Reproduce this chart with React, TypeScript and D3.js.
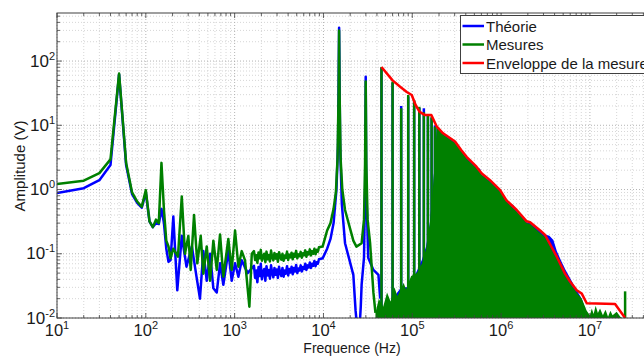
import React from "react";
import * as d3 from "d3";

type P = [number, number];

const W = 644;
const H = 356;
const PLOT = { left: 57, top: 13, bottom: 318, right: 652 };

const X_DOMAIN: [number, number] = [10, 5e7];
const Y_DOMAIN: [number, number] = [0.01, 560];
const X_TICKS = [10, 100, 1e3, 1e4, 1e5, 1e6, 1e7];
const X_TICK_EXP = ["1", "2", "3", "4", "5", "6", "7"];
const Y_TICKS = [0.01, 0.1, 1, 10, 100];
const Y_TICK_EXP = ["-2", "-1", "0", "1", "2"];

const LEGEND_LABELS = ["Théorie", "Mesures", "Enveloppe de la mesure"];
const COLORS = { theory: "#0000ff", measure: "#008000", envelope: "#ff0000" };

// Théorie (blue) – low-frequency part, up to 1.4 kHz
const theoryLowA: P[] = [
  [10, 0.88], [20, 1.05], [30, 1.4], [40, 2.4], [50, 62], [60, 2.4], [70, 0.85], [80, 0.62],
  [90, 0.52], [100, 0.9], [110, 0.32], [120, 0.26], [130, 0.3], [140, 0.29], [150, 0.5],
  [160, 0.3], [170, 0.12], [180, 0.075], [190, 0.08], [204, 0.38], [226, 0.027], [254, 0.19],
  [287, 0.063], [330, 0.13], [372, 0.044], [407, 0.02], [444, 0.11], [485, 0.038], [529, 0.1],
  [576, 0.029], [629, 0.025], [685, 0.071], [746, 0.033], [849, 0.11], [927, 0.038],
  [1011, 0.071], [1102, 0.044], [1202, 0.079], [1400, 0.05],
];

// Mesures (green) – low-frequency part, up to 1.56 kHz
const measureLowA: P[] = [
  [10, 1.22], [20, 1.37], [30, 1.8], [40, 2.95], [50, 64], [60, 2.6], [70, 0.9], [80, 0.65],
  [90, 0.54], [100, 0.98], [110, 0.32], [120, 0.26], [130, 0.34], [140, 0.3], [150, 2.6],
  [160, 0.48], [170, 0.16], [180, 0.13], [190, 0.085], [204, 0.12], [230, 0.09], [254, 0.78],
  [276, 0.1], [301, 0.19], [320, 0.056], [349, 0.4], [380, 0.071], [415, 0.19], [444, 0.049],
  [485, 0.13], [529, 0.038], [576, 0.16], [629, 0.056], [685, 0.2], [746, 0.044], [849, 0.17],
  [927, 0.056], [1011, 0.23], [1102, 0.063], [1202, 0.11], [1309, 0.079], [1465, 0.015],
  [1560, 0.1],
];

// Noisy plateau between 1.65 kHz and 9 kHz
const bandFreqs = [
  1650, 1700, 1751, 1803, 1857, 1913, 1970, 2029, 2090, 2153, 2218, 2284, 2353, 2423, 2496,
  2571, 2648, 2727, 2809, 2893, 2980, 3070, 3162, 3256, 3354, 3455, 3558, 3665, 3775, 3888,
  4005, 4125, 4249, 4376, 4507, 4643, 4782, 4925, 5073, 5225, 5382, 5543, 5710, 5881, 6057,
  6239, 6426, 6619, 6818, 7022, 7233, 7450, 7673, 7904, 8141, 8385, 8637, 8896,
];
const bandMeasure = [
  0.11, 0.08, 0.095, 0.072, 0.105, 0.085, 0.115, 0.078, 0.09, 0.1, 0.074, 0.108, 0.082, 0.096,
  0.076, 0.112, 0.088, 0.079, 0.103, 0.084, 0.098, 0.075, 0.106, 0.09, 0.081, 0.1, 0.078,
  0.094, 0.086, 0.108, 0.08, 0.097, 0.088, 0.104, 0.082, 0.1, 0.09, 0.111, 0.085, 0.098, 0.092,
  0.107, 0.087, 0.102, 0.095, 0.113, 0.09, 0.106, 0.098, 0.117, 0.094, 0.11, 0.1, 0.12, 0.098,
  0.115, 0.108, 0.126,
];
const bandTheory = [
  0.065, 0.042, 0.055, 0.036, 0.062, 0.045, 0.07, 0.04, 0.052, 0.058, 0.038, 0.064, 0.046,
  0.056, 0.041, 0.066, 0.05, 0.043, 0.06, 0.047, 0.057, 0.042, 0.063, 0.05, 0.045, 0.06, 0.044,
  0.055, 0.049, 0.064, 0.046, 0.058, 0.051, 0.063, 0.048, 0.06, 0.053, 0.067, 0.05, 0.059,
  0.055, 0.066, 0.053, 0.062, 0.058, 0.07, 0.056, 0.066, 0.061, 0.073, 0.06, 0.07, 0.065,
  0.077, 0.064, 0.074, 0.07, 0.082,
];

// Resonance region (9.8 kHz – 44 kHz)
const theoryLowB: P[] = [
  [9800, 0.085], [11000, 0.12], [12000, 0.17], [13000, 0.3], [14000, 1.0], [14600, 5],
  [15000, 330], [15400, 5], [16100, 0.6], [17500, 0.146], [21700, 0.047], [23000, 0.013],
  [24000, 0.007], [25500, 0.007], [26300, 0.015], [26900, 0.033], [28600, 0.087],
  [29500, 1.2], [29900, 57], [30300, 1.2], [31900, 0.087], [36500, 0.056], [41600, 0.047],
  [43500, 0.02],
];
const measureLowB: P[] = [
  [9800, 0.13], [11000, 0.23], [12000, 0.3], [13000, 0.5], [13800, 0.9], [14400, 3],
  [14800, 30], [15000, 300], [15200, 30], [15600, 3], [16300, 1], [17500, 0.48],
  [21700, 0.16], [23500, 0.129], [26900, 0.146], [28600, 0.34], [29400, 2.5], [29900, 48],
  [30400, 2.5], [31400, 0.34], [33500, 0.146], [36500, 0.025], [38500, 0.012],
];

// Harmonics of the 15 kHz fundamental, shown as individual lines
const harmonicFreqs = [45e3, 60e3, 75e3, 90e3, 105e3, 120e3, 135e3, 150e3, 165e3, 180e3];
const measurePeaks = [81, 48, 18.4, 29.6, 24.6, 19.4, 16, 14.4, 13.6, 9.5];
const theoryPeaks = [78, 46, 20, 28, 23.5, 18.6, 18.4, 14.8, 13, 10];

// Dense high-frequency region (top of the filled band)
const theoryBulk: P[] = [
  [43500, 0.011], [50000, 0.012], [60000, 0.02], [75000, 0.03], [90000, 0.03], [110000, 0.05],
  [128000, 0.08], [143000, 0.13], [158000, 0.3], [172000, 1.2], [183000, 4.2], [188000, 10],
  [222000, 7.6], [303000, 5.5], [357000, 4.1], [411000, 3.1], [528000, 2.2], [580000, 2.1],
  [606000, 1.72], [750000, 1.36], [975000, 0.95], [1150000, 0.66], [1380000, 0.57],
  [1500000, 0.46], [1940000, 0.31], [2120000, 0.3], [2750000, 0.23], [3130000, 0.2],
  [3500000, 0.19], [3880000, 0.164], [4240000, 0.11], [4800000, 0.075], [5250000, 0.058],
  [5980000, 0.042], [7100000, 0.027], [8100000, 0.02], [9200000, 0.012], [10000000, 0.0095],
];

const measureBulk: P[] = [
  [38500, 0.012], [42000, 0.02], [47000, 0.015], [52000, 0.025], [57000, 0.018], [63000, 0.03],
  [68000, 0.022], [80000, 0.035], [85000, 0.028], [97000, 0.045], [112000, 0.05],
  [128000, 0.07], [143000, 0.12], [158000, 0.3], [172000, 1.2], [183000, 4], [188000, 9.5],
  [222000, 7.2], [303000, 5.3], [357000, 3.9], [411000, 3.0], [528000, 2.15], [606000, 1.68],
  [750000, 1.32], [975000, 0.92], [1150000, 0.64], [1500000, 0.45], [1940000, 0.3],
  [2120000, 0.29], [2750000, 0.21], [3130000, 0.18], [4240000, 0.082], [5250000, 0.045],
  [5980000, 0.034], [7100000, 0.025], [8100000, 0.02], [9200000, 0.013], [10000000, 0.011],
  [10500000, 0.014], [11000000, 0.0115], [11600000, 0.0155], [12300000, 0.012],
  [13000000, 0.014], [14000000, 0.011], [15000000, 0.0135], [16000000, 0.0105],
  [17000000, 0.013], [18000000, 0.011], [20000000, 0.0125], [22000000, 0.0105],
  [24000000, 0.0095],
];

const measureHfSpike: P = [24900000, 0.026];

// Enveloppe de la mesure (red)
const envelope: P[] = [
  [45000, 81], [60000, 50], [73000, 39.8], [86700, 33], [98600, 29.6], [109000, 20.7],
  [121000, 16.2], [139000, 14.4], [164000, 14.4], [189000, 9.5], [222000, 7.5], [303000, 5.6],
  [357000, 4.1], [411000, 3.2], [528000, 2.27], [606000, 1.78], [750000, 1.4], [975000, 0.98],
  [1150000, 0.68], [1500000, 0.48], [1940000, 0.32], [2120000, 0.31], [2750000, 0.23],
  [3130000, 0.196], [4240000, 0.09], [5250000, 0.049], [5980000, 0.037], [7100000, 0.027],
  [8100000, 0.024], [9200000, 0.017], [19200000, 0.0165], [24900000, 0.01],
];

const FONT = "'Liberation Sans', Arial, sans-serif";

export default function App() {
  const x = d3.scaleLog().domain(X_DOMAIN).range([PLOT.left, PLOT.right]);
  const y = d3.scaleLog().domain(Y_DOMAIN).range([PLOT.bottom, PLOT.top]);
  const line = d3.line<P>().x((d) => x(d[0])).y((d) => y(d[1]));
  const area = d3
    .area<P>()
    .x((d) => x(d[0]))
    .y0(PLOT.bottom)
    .y1((d) => y(d[1]));

  const theoryLow: P[] = [
    ...theoryLowA,
    ...bandFreqs.map((f, i) => [f, bandTheory[i]] as P),
    ...theoryLowB,
  ];
  const measureLow: P[] = [
    ...measureLowA,
    ...bandFreqs.map((f, i) => [f, bandMeasure[i]] as P),
    ...measureLowB,
  ];

  const xMinor: number[] = [];
  for (let k = 1; k <= 7; k++)
    for (let m = 2; m <= 9; m++) {
      const v = m * Math.pow(10, k);
      if (v < X_DOMAIN[1]) xMinor.push(v);
    }
  const yMinor: number[] = [];
  for (let k = -2; k <= 2; k++)
    for (let m = 2; m <= 9; m++) {
      const v = m * Math.pow(10, k);
      if (v < Y_DOMAIN[1]) yMinor.push(v);
    }

  const sw = 2.5;
  const axisColor = "#404040";

  return (
    <svg
      width={W}
      height={H}
      style={{ position: "fixed", left: 0, top: 0, background: "#fff" }}
      fontFamily={FONT}
    >
      <defs>
        <clipPath id="plotclip">
          <rect x={PLOT.left} y={PLOT.top} width={PLOT.right - PLOT.left} height={PLOT.bottom - PLOT.top} />
        </clipPath>
      </defs>
      <rect x={0} y={0} width={W} height={H} fill="#fff" />
      {/* grid */}
      <g>
        {xMinor.map((v) => (
          <line key={"xm" + v} x1={x(v)} x2={x(v)} y1={PLOT.top} y2={PLOT.bottom} stroke="#cccccc" strokeWidth={0.8} strokeDasharray="1,2" />
        ))}
        {yMinor.map((v) => (
          <line key={"ym" + v} x1={PLOT.left} x2={PLOT.right} y1={y(v)} y2={y(v)} stroke="#cccccc" strokeWidth={0.8} strokeDasharray="1,2" />
        ))}
        {X_TICKS.map((v) => (
          <line key={"xg" + v} x1={x(v)} x2={x(v)} y1={PLOT.top} y2={PLOT.bottom} stroke="#acacac" strokeWidth={0.9} strokeDasharray="1,2" />
        ))}
        {Y_TICKS.map((v) => (
          <line key={"yg" + v} x1={PLOT.left} x2={PLOT.right} y1={y(v)} y2={y(v)} stroke="#acacac" strokeWidth={0.9} strokeDasharray="1,2" />
        ))}
      </g>

      {/* data */}
      <g clipPath="url(#plotclip)">
        <path d={area(theoryBulk) || ""} fill={COLORS.theory} />
        <path d={line(theoryLow) || ""} fill="none" stroke={COLORS.theory} strokeWidth={sw} strokeLinejoin="round" />
        {harmonicFreqs.map((f, i) => (
          <line key={"th" + f} x1={x(f)} x2={x(f)} y1={PLOT.bottom} y2={y(theoryPeaks[i])} stroke={COLORS.theory} strokeWidth={sw} />
        ))}
        <path d={area(measureBulk) || ""} fill={COLORS.measure} />
        <path d={line(measureLow) || ""} fill="none" stroke={COLORS.measure} strokeWidth={sw} strokeLinejoin="round" />
        {harmonicFreqs.map((f, i) => (
          <line key={"mh" + f} x1={x(f)} x2={x(f)} y1={PLOT.bottom} y2={y(measurePeaks[i])} stroke={COLORS.measure} strokeWidth={sw} />
        ))}
        <line x1={x(measureHfSpike[0])} x2={x(measureHfSpike[0])} y1={PLOT.bottom} y2={y(measureHfSpike[1])} stroke={COLORS.measure} strokeWidth={sw} />
        <path d={line(envelope) || ""} fill="none" stroke={COLORS.envelope} strokeWidth={sw} strokeLinejoin="round" />
      </g>

      {/* axes box and ticks */}
      <rect x={PLOT.left} y={PLOT.top} width={PLOT.right - PLOT.left} height={PLOT.bottom - PLOT.top} fill="none" stroke={axisColor} strokeWidth={1} />
      <g stroke={axisColor} strokeWidth={0.8}>
        {X_TICKS.map((v) => (
          <g key={"xt" + v}>
            <line x1={x(v)} x2={x(v)} y1={PLOT.bottom} y2={PLOT.bottom - 5} />
            <line x1={x(v)} x2={x(v)} y1={PLOT.top} y2={PLOT.top + 5} />
          </g>
        ))}
        {xMinor.map((v) => (
          <g key={"xmt" + v}>
            <line x1={x(v)} x2={x(v)} y1={PLOT.bottom} y2={PLOT.bottom - 3} />
            <line x1={x(v)} x2={x(v)} y1={PLOT.top} y2={PLOT.top + 3} />
          </g>
        ))}
        {Y_TICKS.map((v) => (
          <line key={"yt" + v} x1={PLOT.left} x2={PLOT.left + 5} y1={y(v)} y2={y(v)} />
        ))}
        {yMinor.map((v) => (
          <line key={"ymt" + v} x1={PLOT.left} x2={PLOT.left + 3} y1={y(v)} y2={y(v)} />
        ))}
      </g>

      {/* tick labels */}
      <g fill="#1a1a1a">
        {X_TICKS.map((v, i) => (
          <text key={"xl" + v} x={x(v)} y={336} textAnchor="middle" fontSize={16.5}>
            10<tspan fontSize={11} dy={-7}>{X_TICK_EXP[i]}</tspan>
          </text>
        ))}
        {Y_TICKS.map((v, i) => (
          <text key={"yl" + v} x={55} y={y(v) + 5.5} textAnchor="end" fontSize={17}>
            10<tspan fontSize={11} dy={-7}>{Y_TICK_EXP[i]}</tspan>
          </text>
        ))}
        <text x={352} y={352.5} textAnchor="middle" fontSize={14}>
          Frequence (Hz)
        </text>
        <text transform={`translate(25,166) rotate(-90)`} textAnchor="middle" fontSize={15}>
          Amplitude (V)
        </text>
      </g>

      {/* legend */}
      <g>
        <rect x={460.5} y={15.5} width={200} height={58} fill="#fff" stroke={axisColor} strokeWidth={1} />
        {LEGEND_LABELS.map((lab, i) => {
          const c = [COLORS.theory, COLORS.measure, COLORS.envelope][i];
          const ly = 26 + i * 18.5;
          return (
            <g key={lab}>
              <line x1={462.5} x2={484} y1={ly} y2={ly} stroke={c} strokeWidth={sw} />
              <text x={486} y={ly + 5.5} fontSize={15} fill="#1a1a1a">
                {lab}
              </text>
            </g>
          );
        })}
      </g>
    </svg>
  );
}
